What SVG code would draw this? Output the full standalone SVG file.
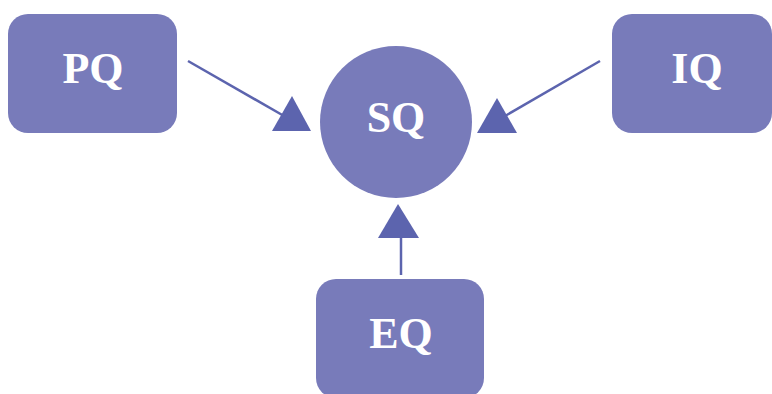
<svg xmlns="http://www.w3.org/2000/svg" width="772" height="394" viewBox="0 0 772 394">
<style>
.node{fill:#787bba;}
.lbl{font-family:"Liberation Serif","Times New Roman",serif;font-weight:bold;font-size:44px;fill:#ffffff;text-anchor:middle;}
.edge{stroke:#5c64ae;stroke-width:2.5;fill:none;}
.head{fill:#5c64ae;}
</style>
<rect width="772" height="394" fill="#ffffff"/>
<g id="connectors">
<line class="edge" x1="188" y1="61" x2="284" y2="116"/>
<polygon class="head" points="292,96 272,131 311,131"/>
<line class="edge" x1="600" y1="61" x2="505" y2="116"/>
<polygon class="head" points="497,98 477,133 517,133"/>
<line class="edge" x1="401" y1="275" x2="401" y2="236"/>
<polygon class="head" points="398,204 378,238 419,238"/>
</g>
<g id="PQ">
<rect class="node" x="8" y="14" width="169" height="119" rx="20"/>
<text class="lbl" x="93" y="83">PQ</text>
</g>
<g id="IQ">
<rect class="node" x="612" y="14" width="160" height="119" rx="20"/>
<text class="lbl" x="697" y="83">IQ</text>
</g>
<g id="SQ">
<circle class="node" cx="396" cy="122" r="76"/>
<text class="lbl" x="396" y="132">SQ</text>
</g>
<g id="EQ">
<rect class="node" x="316" y="279" width="168" height="119" rx="20"/>
<text class="lbl" x="401" y="348">EQ</text>
</g>
</svg>
